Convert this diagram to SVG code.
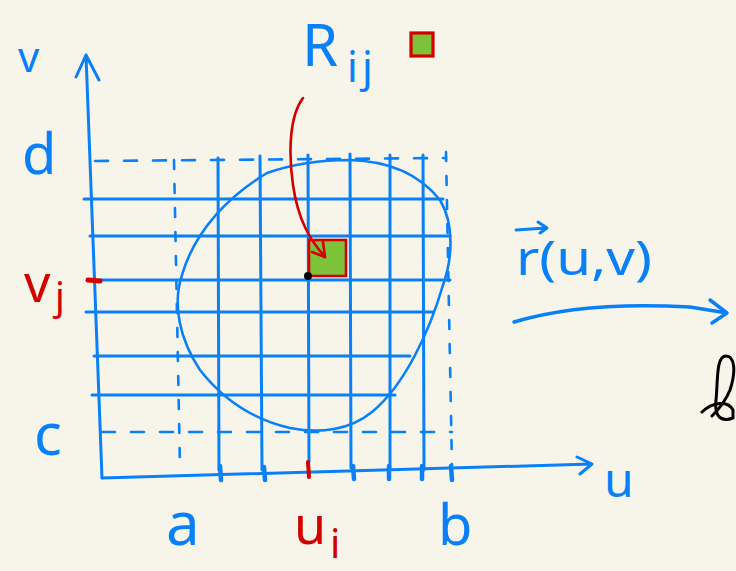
<svg xmlns="http://www.w3.org/2000/svg" width="736" height="571" viewBox="0 0 736 571">
<style>
.bl{stroke:#0a80f8;fill:none;stroke-linecap:round;stroke-linejoin:round}
.g{stroke-width:3}
.ax{stroke-width:3}
.dash{stroke-width:2.6;stroke-dasharray:13 16}
.vdash{stroke-width:2.6;stroke-dasharray:9 15}
.tk{stroke-width:4.5}
.rd{stroke:#d40000;fill:none;stroke-linecap:round;stroke-linejoin:round}
.t{font-family:"Noto Sans","Liberation Sans",sans-serif;fill:#0a80f8}
.tr{font-family:"Noto Sans","Liberation Sans",sans-serif;fill:#d40000}
</style>
<rect width="736" height="571" fill="#f7f5ea"/>

<g id="grid">
  <path class="bl dash" d="M95 161 L446 158"/>
  <path class="bl dash" d="M102 432 L452 432"/>
  <path class="bl vdash" d="M174 160 L180 468"/>
  <path class="bl vdash" d="M446 152 L452 468"/>
  <path class="bl g" d="M218 158 L219 470 M260 156 L262 470 M308 155 L309 462 M350 154 L351 468 M390 155 L390 468 M423 155 L424 470"/>
  <path class="bl g" d="M84 199 L443 199 M90 236 L450 236 M100 280 L450 280 M86 312 L433 312 M94 356 L410 356 M92 395 L395 395"/>
  <path class="bl tk" d="M220 466 L221 480 M264 467 L265 480 M353 466 L354 479 M389 466 L389 479 M422 466 L422 479 M451 466 L452 480"/>
</g>

<g id="axes">
  <path class="bl ax" d="M102 478 L86 55 M76 77 L86 55 L99 80"/>
  <path class="bl ax" d="M102 478 L592 464 M577 457 L592 464 L580 474"/>
</g>

<g id="region">
  <path class="bl" stroke-width="2.6" d="M267 173 C 290 165, 320 160, 350 160 C 390 161, 420 175, 440 200 C 455 225, 452 260, 443 285 C 430 330, 405 385, 372 412 C 350 430, 320 434, 290 428 C 255 420, 225 402, 200 370 C 180 340, 172 305, 182 275 C 195 230, 230 195, 267 173 Z"/>
</g>

<g id="cell">
  <rect x="309" y="240" width="37" height="36" fill="#7dc33a" stroke="#d40000" stroke-width="2.6"/>
  <path class="rd" stroke-width="4" d="M308 462 L309 477"/>
  <path class="rd" stroke-width="5" d="M88 280 L100 281"/>
  <circle cx="308" cy="276" r="4" fill="#000"/>
</g>

<g id="connectors">
  <path class="rd" stroke-width="2.6" d="M303 98 C 290 115, 288 150, 293 185 C 298 220, 310 240, 325 257"/>
  <path class="rd" stroke-width="2.6" d="M312 252 L325 257 L323 242"/>
  <path class="bl" stroke-width="3.5" d="M514 322 C 560 308, 620 303, 690 307 L 727 313 M710 300 L727 313 L712 323"/>
</g>

<g id="labels">
  <text class="t" x="18" y="72" font-size="42">v</text>
  <text class="t" x="22" y="174" font-size="56">d</text>
  <text class="t" x="34" y="455" font-size="58">c</text>
  <text class="t" x="166" y="545" font-size="60">a</text>
  <text class="t" x="438" y="545" font-size="56">b</text>
  <text class="t" x="604" y="497" font-size="48">u</text>
  <text class="tr" x="24" y="302" font-size="52">v</text>
  <text class="tr" x="55" y="310" font-size="38">j</text>
  <text class="tr" x="294" y="544" font-size="52">u</text>
  <text class="tr" x="330" y="558" font-size="40">i</text>
</g>

<g id="Rij">
  <text class="t" x="302" y="66" font-size="58">R</text>
  <text class="t" x="347" y="82" font-size="42">i</text>
  <text class="t" x="362" y="82" font-size="42">j</text>
  <rect x="411" y="33" width="22" height="23" fill="#7dc33a" stroke="#d40000" stroke-width="3.2"/>
</g>

<g id="map">
  <text class="t" x="516" y="275" font-size="48" textLength="136" lengthAdjust="spacingAndGlyphs">r(u,v)</text>
  <path class="bl" stroke-width="3" d="M516 230 L546 228 M538 222 L547 228 L540 233"/>
</g>

<g id="squiggle">
  <path fill="none" stroke="#000" stroke-width="3" stroke-linecap="round" stroke-linejoin="round" d="M726 356 C 716 356, 718 380, 716 400 C 714 418, 722 422, 733 418 L 733 410 C 728 400, 712 402, 702 412 M726 356 C 735 356, 736 372, 730 390 C 726 400, 718 410, 712 416"/>
</g>
</svg>
